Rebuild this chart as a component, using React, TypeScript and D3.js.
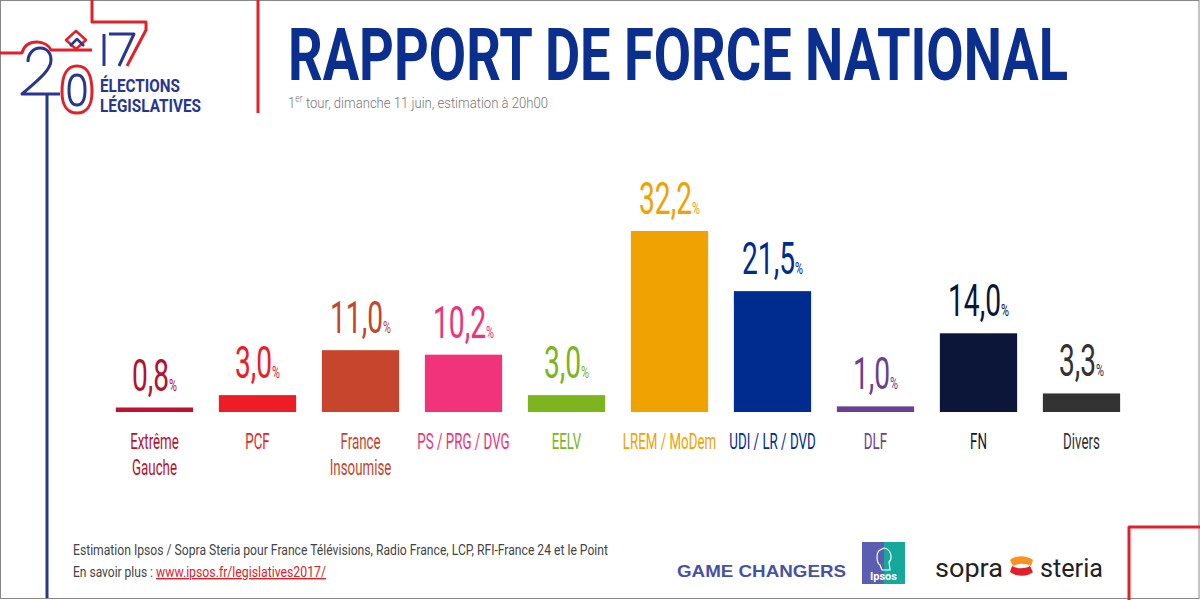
import * as d3 from 'd3';

const categories = ['Extrême Gauche', 'PCF', 'France Insoumise', 'PS / PRG / DVG', 'EELV', 'LREM / MoDem', 'UDI / LR / DVD', 'DLF', 'FN', 'Divers'];
const labelLines = [['Extrême', 'Gauche'], ['PCF'], ['France', 'Insoumise'], ['PS / PRG / DVG'], ['EELV'], ['LREM / MoDem'], ['UDI / LR / DVD'], ['DLF'], ['FN'], ['Divers']];
const values = [0.8, 3.0, 11.0, 10.2, 3.0, 32.2, 21.5, 1.0, 14.0, 3.3];
const barColors = ['#bd1230', '#ee1c25', '#c7452d', '#f0337a', '#7cb51e', '#f0a202', '#002c8f', '#6b3f91', '#0b1638', '#333333'];
const textColors = ['#b5122f', '#ee1c25', '#c4452d', '#ee3378', '#7cb51e', '#f0a202', '#002c8f', '#6b3f91', '#0b1638', '#333333'];

const TITLE = 'RAPPORT DE FORCE NATIONAL';
const SOURCE = 'Estimation Ipsos / Sopra Steria pour France Télévisions, Radio France, LCP, RFI-France 24 et le Point';
const LINK = 'www.ipsos.fr/legislatives2017/';

const W = 1200;
const H = 600;
const RED = '#e2202b';
const BLUE = '#27378f';
const font = 'Roboto, "Open Sans", sans-serif';

export default function App() {
  const x = d3.scaleBand<string>().domain(categories).range([103, 1133]).paddingInner(0.25).paddingOuter(0.125);
  const y = d3.scaleLinear().domain([0, d3.max(values) ?? 0]).range([412, 231]);
  const fmt = (v: number) => d3.format('.1f')(v).replace('.', ',');

  return (
    <svg width={W} height={H} style={{ position: 'absolute', left: 0, top: 0, background: '#fff' }} fontFamily={font}>
      <rect x={0.5} y={0.5} width={W - 1.5} height={H - 2} fill="#fff" stroke="#888" />

      {/* logo 2017 */}
      <g fill="none" strokeWidth={3} strokeLinejoin="round">
        <path d="M92,0 V22 H146 V30 L127,66" stroke={RED} />
        <path d="M0,53 H22 C24,45 30,42 37,42 C44,42 49,46 51,50 H92" stroke={RED} />
        <path d="M62,92 C62,72 68,66 77,66 C86,66 92,72 92,92 C92,106 86,113 77,113 C68,113 62,106 62,92" stroke={RED} />
        <path d="M66,40 L76,31 L86,40 L76,49 Z" stroke={RED} strokeWidth={2.5} />
        <path d="M28,62 C28,53 34,48 40,48 C47,48 51,53 51,60 C51,69 42,77 22,94 H60" stroke={BLUE} />
        <path d="M47,94 V598" stroke={BLUE} />
        <path d="M69,90 C69,80 72,75 77,75 C82,75 85,80 85,90 C85,100 82,105 77,105 C72,105 69,100 69,90" stroke={BLUE} />
        <path d="M70,46 L77,39 L84,46" stroke={BLUE} strokeWidth={2.5} />
        <path d="M104,34 V66 M109,34 H134 L119,66" stroke={BLUE} />
        <path d="M258,0 V113" stroke={RED} />
        <path d="M1129,600 V527 H1200" stroke={RED} />
      </g>
      <text x={100} y={92} fill={BLUE} fontWeight={700} fontSize={19} textLength={80} lengthAdjust="spacingAndGlyphs">ÉLECTIONS</text>
      <text x={100} y={112} fill={BLUE} fontWeight={700} fontSize={19} textLength={101} lengthAdjust="spacingAndGlyphs">LÉGISLATIVES</text>

      {/* title */}
      <text x={288} y={80} fill="#0b2f8f" fontWeight={700} fontSize={73} textLength={780} lengthAdjust="spacingAndGlyphs">{TITLE}</text>
      <text x={288} y={108} fill="#777" fontSize={15} fontWeight={300} textLength={260} lengthAdjust="spacingAndGlyphs">
        1<tspan fontSize={10} dy={-6}>er</tspan><tspan dy={6}> tour, dimanche 11 juin, estimation à 20h00</tspan>
      </text>

      {/* bars */}
      {categories.map((c, i) => {
        const cx = (x(c) ?? 0) + x.bandwidth() / 2;
        return (
          <g key={c}>
            <rect x={x(c)} y={y(values[i])} width={x.bandwidth()} height={y(0) - y(values[i])} fill={barColors[i]} />
            <text transform={`translate(${cx},${y(values[i]) - 17}) scale(0.64,1)`} textAnchor="middle" fill={textColors[i]} fontSize={44} fontWeight={400}>
              {fmt(values[i])}
              <tspan fontSize={17}>%</tspan>
            </text>
            {labelLines[i].map((line, j) => (
              <text key={j} transform={`translate(${cx},${449 + j * 26}) scale(0.62,1)`} textAnchor="middle" fill={textColors[i]} fontSize={21.5}>
                {line}
              </text>
            ))}
          </g>
        );
      })}

      {/* footer */}
      <text x={73} y={555} fill="#444" fontSize={14} textLength={535} lengthAdjust="spacingAndGlyphs">{SOURCE}</text>
      <text x={73} y={577} fill="#444" fontSize={14} textLength={80} lengthAdjust="spacingAndGlyphs">En savoir plus :</text>
      <text x={156} y={577} fill="#d8232a" fontSize={14} textDecoration="underline" textLength={170} lengthAdjust="spacingAndGlyphs">{LINK}</text>

      {/* logos */}
      <text x={677} y={577} fill="#4752a5" fontFamily='"Liberation Sans", Arial, sans-serif' fontWeight={700} fontSize={17} textLength={169} lengthAdjust="spacingAndGlyphs">GAME CHANGERS</text>
      <rect x={862} y={542} width={22} height={42} fill="#5a5db0" />
      <rect x={884} y={542} width={21} height={42} fill="#16a99b" />
      <path d="M880,550 C876,552 876,562 880,565 L882,570 L890,570 L889,562 C893,558 891,549 884,548 Z" fill="none" stroke="#fff" strokeWidth={1.2} />
      <text x={883.5} y={580} textAnchor="middle" fill="#fff" fontWeight={700} fontSize={11}>Ipsos</text>
      <text x={935} y={577} fill="#222" fontSize={25} textLength={68} lengthAdjust="spacingAndGlyphs">sopra</text>
      <path d="M1033,560 C1025,554 1014,556 1010,560 L1013,566 C1018,563 1026,563 1031,566 Z" fill="#f7931e" />
      <path d="M1010,572 C1018,578 1029,576 1033,572 L1030,566 C1025,569 1017,569 1012,566 Z" fill="#e2202b" />
      <text x={1040} y={577} fill="#222" fontSize={25} textLength={63} lengthAdjust="spacingAndGlyphs">steria</text>
    </svg>
  );
}
